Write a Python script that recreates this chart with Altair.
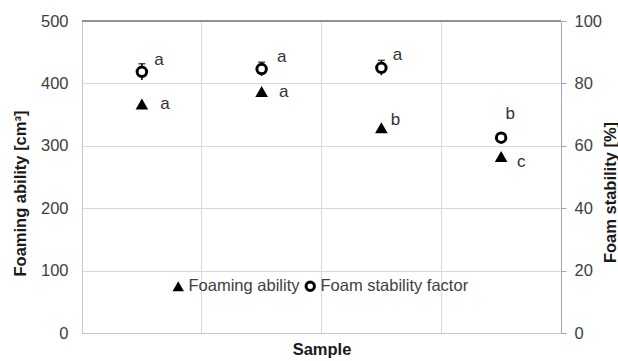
import altair as alt
import pandas as pd

samples = ["1", "2", "3", "4"]
foaming_ability = [367, 387, 329, 283]
foaming_err = [5, 5, 5, 5]
foam_stability = [83.7, 84.6, 85.0, 62.6]
stability_err = [2.6, 2.2, 2.4, 1.0]
foaming_letters = ["a", "a", "b", "c"]
stability_letters = ["a", "a", "a", "b"]
series_names = ["Foaming ability", "Foam stability factor"]

fa = pd.DataFrame({
    "sample": samples,
    "value": foaming_ability,
    "lo": [v - e for v, e in zip(foaming_ability, foaming_err)],
    "hi": [v + e for v, e in zip(foaming_ability, foaming_err)],
    "letter": foaming_letters,
    "series": series_names[0],
})
fs = pd.DataFrame({
    "sample": samples,
    "value": foam_stability,
    "lo": [v - e for v, e in zip(foam_stability, stability_err)],
    "hi": [v + e for v, e in zip(foam_stability, stability_err)],
    "letter": stability_letters,
    "series": series_names[1],
})

FONT = "Liberation Sans"
W, H = 479, 312
LBL = 16.5
TTL = 16.5

x_enc = alt.X(
    "sample:N",
    scale=alt.Scale(type="band", paddingInner=0, paddingOuter=0),
    axis=alt.Axis(
        title="Sample", labels=False, ticks=False, domain=True,
        domainColor="#c8c8c8", grid=True, gridColor="#d9d9d9",
        bandPosition=0, titleFontWeight="bold", titleFontSize=TTL,
        titleColor="#1a1a1a", titlePadding=8, titleFont=FONT,
    ),
)

left_axis = alt.Axis(
    title="Foaming ability [cm³]", values=[0, 100, 200, 300, 400, 500],
    ticks=False, labelPadding=14, labelFontSize=LBL, labelColor="#404040",
    labelFont=FONT, domain=True, domainColor="#c8c8c8", grid=True,
    gridColor="#d9d9d9", titleFontWeight="bold", titleFontSize=TTL,
    titleColor="#1a1a1a", titlePadding=12, titleFont=FONT, titleY=172,
)
right_axis = alt.Axis(
    title="Foam stability [%]", orient="right",
    values=[0, 20, 40, 60, 80, 100], ticks=True, tickSize=5,
    tickColor="#a6a6a6", labelPadding=8, labelFontSize=LBL,
    labelColor="#404040", labelFont=FONT, domain=True,
    domainColor="#a6a6a6", grid=False, titleFontWeight="bold",
    titleFontSize=TTL, titleColor="#1a1a1a", titlePadding=1,
    titleAngle=270, titleBaseline="top", titleFont=FONT, titleY=171,
)

tri_legend = alt.Legend(
    title=None, orient="none", legendX=88, legendY=257,
    labelFontSize=LBL, labelColor="#404040", labelFont=FONT,
    symbolFillColor="black", symbolStrokeColor="black", symbolStrokeWidth=1,
    symbolSize=130, labelOffset=2, labelLimit=0,
)
cir_legend = alt.Legend(
    title=None, orient="none", legendX=220, legendY=257,
    labelFontSize=LBL, labelColor="#404040", labelFont=FONT,
    symbolType="circle", symbolStrokeWidth=3,
    symbolSize=70, labelOffset=2, labelLimit=0,
)

# Left (foaming ability)
yscale_l = alt.Scale(domain=[0, 500], nice=False)
yl = alt.Y("value:Q", scale=yscale_l, axis=left_axis)
base_l = alt.Chart(fa)
tri_err = base_l.mark_rule(color="black", strokeWidth=1.5).encode(
    x=x_enc, y=alt.Y("lo:Q", scale=yscale_l, axis=left_axis), y2="hi:Q"
)
tri_pts = base_l.mark_point(filled=True, color="black", strokeWidth=1, size=160, opacity=1).encode(
    x=x_enc, y=yl,
    shape=alt.Shape("series:N", scale=alt.Scale(domain=[series_names[0]], range=["triangle-up"]),
                    legend=tri_legend),
)
tri_offsets = [(23, 0), (22, 0), (14, -8), (20, 6)]
tri_texts = [
    base_l.transform_filter(alt.datum.sample == s).mark_text(
        font=FONT, fontSize=17, color="#333333", dx=dx, dy=dy
    ).encode(x=x_enc, y=yl, text="letter:N")
    for s, (dx, dy) in zip(samples, tri_offsets)
]
border = base_l.mark_rule(color="#8c8c8c", strokeWidth=1).encode(
    x=alt.value(0), x2=alt.value(W), y=alt.value(0)
)
left_layer = alt.layer(tri_err, tri_pts, *tri_texts, border)

# Right (foam stability)
yscale_r = alt.Scale(domain=[0, 100], nice=False)
yr = alt.Y("value:Q", scale=yscale_r, axis=right_axis)
base_r = alt.Chart(fs)
cir_err = base_r.mark_rule(color="black", strokeWidth=1.5).encode(
    x=x_enc, y=alt.Y("lo:Q", scale=yscale_r, axis=right_axis), y2="hi:Q"
)
cir_cap = base_r.mark_tick(color="black", thickness=1.5, size=7, orient="horizontal").encode(
    x=x_enc, y=alt.Y("hi:Q", scale=yscale_r, axis=right_axis)
)
cir_pts = base_r.mark_point(filled=False, shape="circle", fill="white", strokeWidth=3, size=90, opacity=1).encode(
    x=x_enc, y=yr,
    stroke=alt.Stroke("series:N", scale=alt.Scale(domain=[series_names[1]], range=["black"]),
                      legend=cir_legend),
)
cir_offsets = [(17, -12), (20, -12), (16, -13), (9, -24)]
cir_texts = [
    base_r.transform_filter(alt.datum.sample == s).mark_text(
        font=FONT, fontSize=17, color="#333333", dx=dx, dy=dy
    ).encode(x=x_enc, y=yr, text="letter:N")
    for s, (dx, dy) in zip(samples, cir_offsets)
]
right_layer = alt.layer(cir_err, cir_cap, cir_pts, *cir_texts)

chart = (
    alt.layer(left_layer, right_layer)
    .resolve_scale(y="independent", shape="independent", stroke="independent")
    .resolve_legend(shape="independent", stroke="independent")
    .properties(
        width=W, height=H,
        autosize=alt.AutoSizeParams(type="none"),
        padding={"left": 82, "top": 21, "right": 57, "bottom": 28},
        background="white",
    )
    .configure_view(stroke=None)
)

chart.save("out.html", embed_options={"renderer": "svg", "actions": False})
